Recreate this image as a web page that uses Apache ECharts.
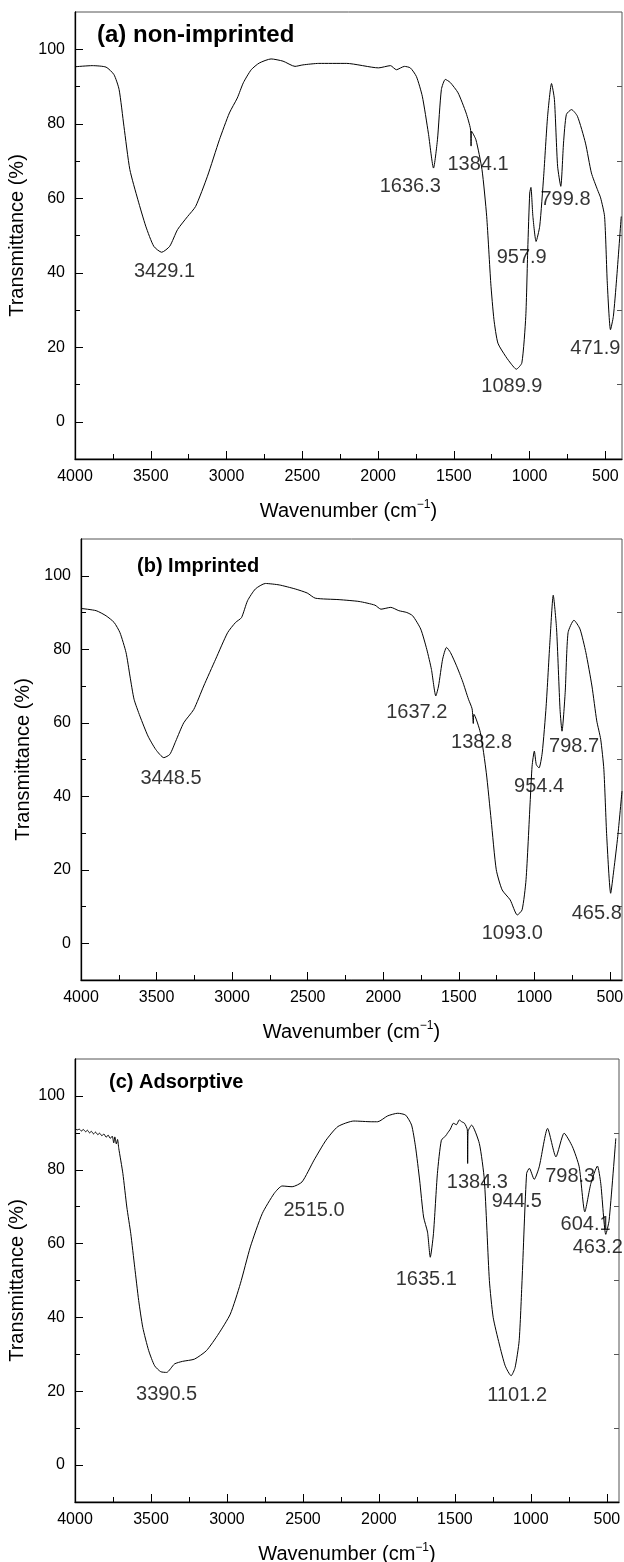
<!DOCTYPE html>
<html>
<head>
<meta charset="utf-8">
<script src="https://cdn.jsdelivr.net/npm/echarts@6/dist/echarts.min.js"></script>
<style>
  html, body { margin: 0; padding: 0; background: #fff; }
  #chart { width: 624px; height: 1562px; }
</style>
</head>
<body>
<div id="chart"></div>
<script>
// FTIR spectra, [wavenumber, transmittance %]
const specA = [
  [4000,95.3],[3887,95.6],[3795,95.2],[3743,93.2],[3709,89.2],[3677,79.3],[3638,67.7],[3585,59.6],
  [3533,52.5],[3480,47.1],[3428,45.5],[3375,47.1],[3323,51.6],[3257,55.1],[3204,57.8],[3126,65.9],
  [3047,75.7],[2981,82.9],[2929,86.9],[2889,91.0],[2837,94.5],[2784,96.3],[2706,97.4],[2627,96.8],
  [2548,95.4],[2496,95.8],[2391,96.2],[2207,96.2],[1997,95.0],[1918,95.6],[1879,94.5],[1826,95.4],
  [1787,95.0],[1747,92.7],[1708,87.4],[1668,77.5],[1634,68.1],[1608,75.7],[1582,89.2],[1556,91.9],
  [1524,91.1],[1472,88.3],[1419,82.9],[1390,78.6],[1386,74.0],[1383,78.0],[1354,75.7],[1314,67.7],
  [1283,55.1],[1256,37.2],[1235,27.4],[1209,21.1],[1157,17.5],[1117,15.3],[1088,14.1],[1051,15.8],
  [1025,28.3],[1012,46.2],[999,61.4],[991,62.9],[978,55.1],[957,48.4],[933,52.5],[907,65.9],
  [881,82.0],[855,90.8],[836,86.5],[815,68.6],[794,63.2],[776,74.8],[757,82.5],[723,83.8],
  [684,82.0],[631,74.8],[592,66.8],[552,62.3],[531,60.1],[505,55.1],[487,37.2],[466,24.7],
  [447,28.3],[426,38.1],[395,55.1]
];
const specB = [
  [4000,91.1],[3900,90.5],[3834,89.1],[3781,87.3],[3742,84.5],[3702,79.1],[3676,72.7],[3649,66.4],
  [3610,61.8],[3557,56.4],[3505,52.7],[3452,50.5],[3412,51.4],[3373,55.0],[3320,60.0],[3254,63.6],
  [3188,70.0],[3109,77.3],[3030,84.5],[2977,87.3],[2938,88.6],[2898,93.2],[2846,96.4],[2780,97.9],
  [2688,97.5],[2582,96.4],[2503,95.3],[2450,93.9],[2292,93.5],[2160,93.0],[2055,92.0],[2015,90.9],
  [1950,91.4],[1897,90.5],[1844,90.0],[1805,89.1],[1752,85.5],[1712,80.0],[1681,74.5],[1652,67.3],
  [1634,70.0],[1607,77.3],[1581,80.5],[1555,79.1],[1515,75.5],[1476,71.4],[1436,66.4],[1412,63.8],
  [1404,59.8],[1400,62.3],[1357,57.3],[1318,46.4],[1286,33.6],[1252,20.0],[1213,14.5],[1160,11.8],
  [1113,7.7],[1081,9.1],[1055,17.3],[1028,38.2],[1015,48.2],[1000,52.3],[987,48.6],[969,47.7],
  [948,51.8],[922,64.5],[896,82.7],[875,94.7],[853,85.5],[830,63.6],[817,57.7],[796,68.2],
  [777,84.5],[738,87.9],[698,85.5],[659,79.1],[619,70.0],[587,60.5],[561,55.5],[540,47.3],
  [521,29.1],[495,13.6],[474,20.0],[448,29.1],[420,41.4]
];
const specC = [
  [4000,91.2],[3985,90.8],[3972,91.0],[3958,90.5],[3945,90.9],[3930,90.3],[3918,90.7],[3905,90.0],
  [3892,90.4],[3878,89.7],[3865,90.2],[3850,89.5],[3838,89.9],[3823,89.2],[3810,89.7],[3795,88.8],
  [3782,89.4],[3768,88.5],[3755,89.1],[3745,87.3],[3738,88.9],[3728,87.0],[3720,88.2],[3712,85.8],
  [3685,79.0],[3659,69.9],[3633,62.7],[3607,53.6],[3581,44.6],[3554,37.3],[3515,31.0],[3476,26.9],
  [3436,25.3],[3397,25.1],[3345,27.4],[3292,28.1],[3214,28.7],[3135,31.0],[3056,35.5],[2978,40.9],
  [2912,49.1],[2846,59.1],[2768,68.1],[2689,73.6],[2637,75.6],[2571,75.4],[2506,76.7],[2427,82.6],
  [2348,88.0],[2270,91.7],[2165,93.2],[2047,93.0],[2008,93.0],[1942,94.6],[1876,95.3],[1824,94.8],
  [1785,92.1],[1759,86.2],[1732,77.2],[1706,67.2],[1680,63.1],[1662,56.3],[1641,62.7],[1615,79.0],
  [1589,88.0],[1560,89.2],[1549,89.9],[1530,91.0],[1510,92.6],[1490,92.2],[1471,93.5],[1455,93.0],
  [1437,92.6],[1418,90.8],[1416,81.7],[1413,90.4],[1390,92.1],[1339,87.1],[1306,77.2],[1273,50.0],
  [1248,40.0],[1208,32.8],[1169,26.9],[1130,24.2],[1104,26.4],[1077,33.7],[1058,50.0],[1028,79.0],
  [1010,80.4],[978,77.4],[945,80.8],[890,91.2],[835,83.5],[781,89.9],[726,86.2],[682,80.8],
  [645,68.6],[605,76.3],[562,81.0],[540,76.3],[507,62.5],[485,66.3],[441,88.5]
];

// peak labels and where their text sits (data coords)
const labelsA = ['3429.1', '1636.3', '1384.1', '957.9', '799.8', '1089.9', '471.9'];
const labelAtA = [[3409,40.4],[1787,63.2],[1340,69.0],[1052,44.0],[763,59.6],[1117,9.5],[566,19.8]];
const labelsB = ['3448.5', '1637.2', '1382.8', '954.4', '798.7', '1093.0', '465.8'];
const labelAtB = [[3404,44.7],[1778,62.9],[1349,54.5],[969,42.7],[737,53.6],[1146,2.7],[587,8.2]];
const labelsC = ['3390.5', '2515.0', '1635.1', '1384.3', '944.5', '798.3', '604.1', '463.2', '1101.2'];
const labelAtC = [[3397,19.0],[2427,69.0],[1688,50.2],[1352,76.6],[1093,71.3],[741,78.3],[640,65.1],[560,58.9],[1090,18.8]];

const titles = ['(a) non-imprinted', '(b) Imprinted', '(c) Adsorptive'];

const xMajor = [4000, 3500, 3000, 2500, 2000, 1500, 1000, 500];
const xMinor = [3750, 3250, 2750, 2250, 1750, 1250, 750];
const yMajor = [0, 20, 40, 60, 80, 100];
const yMinor = [10, 30, 50, 70, 90];

const FONT = 'Liberation Sans, Arial, Helvetica, sans-serif';

const panels = [
  { spec: specA, labels: labelsA, at: labelAtA, grid: { left: 75, top: 12, width: 547, height: 447 }, xMin: 390, titleSize: 24, titlePos: [97, 35] },
  { spec: specB, labels: labelsB, at: labelAtB, grid: { left: 81, top: 539, width: 541, height: 441 }, xMin: 420, titleSize: 20, titlePos: [137, 566] },
  { spec: specC, labels: labelsC, at: labelAtC, grid: { left: 75, top: 1059, width: 544, height: 443 }, xMin: 420, titleSize: 20, titlePos: [109, 1082] }
];

const chart = echarts.init(document.getElementById('chart'));

const grid = [], xAxis = [], yAxis = [], series = [], graphic = [];
const plain = (v) => String(v);

panels.forEach((p, i) => {
  grid.push(Object.assign({
    show: true, borderColor: '#555', borderWidth: 1, backgroundColor: 'transparent',
    containLabel: false, outerBoundsMode: 'none'
  }, p.grid));

  const xBase = { gridIndex: i, type: 'value', inverse: true, min: p.xMin, max: 4000, position: 'bottom', splitLine: { show: false } };
  xAxis.push(Object.assign({}, xBase, {
    axisLine: { show: true, onZero: false, lineStyle: { color: '#000', width: 1.3 } },
    axisTick: { inside: true, length: 8, customValues: xMajor, lineStyle: { color: '#000' } },
    axisLabel: { customValues: xMajor, formatter: plain, fontSize: 16, margin: 10, color: '#000', fontFamily: FONT },
    name: '{a|Wavenumber (cm}{s|−1}{a|)}',
    nameLocation: 'middle',
    nameGap: 40,
    nameTextStyle: {
      rich: {
        a: { fontSize: 20, color: '#000', fontFamily: FONT },
        s: { fontSize: 12, color: '#000', fontFamily: FONT, padding: [0, 0, 12, 0] }
      }
    }
  }));
  xAxis.push(Object.assign({}, xBase, {
    axisLine: { show: false, onZero: false },
    axisTick: { inside: true, length: 5, customValues: xMinor, lineStyle: { color: '#000' } },
    axisLabel: { show: false }
  }));

  const yBase = { gridIndex: i, type: 'value', min: -10, max: 110, splitLine: { show: false } };
  yAxis.push(Object.assign({}, yBase, {
    position: 'left',
    axisLine: { show: true, onZero: false, lineStyle: { color: '#000', width: 1.3 } },
    axisTick: { inside: true, length: 8, customValues: yMajor, lineStyle: { color: '#000' } },
    axisLabel: { customValues: yMajor, formatter: plain, fontSize: 16, margin: 10, color: '#000', fontFamily: FONT },
    name: 'Transmittance (%)',
    nameLocation: 'middle',
    nameGap: 31,
    nameTextStyle: { fontSize: 20, color: '#000', fontFamily: FONT }
  }));
  yAxis.push(Object.assign({}, yBase, {
    position: 'left',
    axisLine: { show: false, onZero: false },
    axisTick: { inside: true, length: 5, customValues: yMinor, lineStyle: { color: '#000' } },
    axisLabel: { show: false }
  }));
  yAxis.push(Object.assign({}, yBase, {
    position: 'right',
    axisLine: { show: false, onZero: false },
    axisTick: { inside: true, length: 5, customValues: yMinor, lineStyle: { color: '#555' } },
    axisLabel: { show: false }
  }));

  series.push({
    type: 'line',
    xAxisIndex: i * 2,
    yAxisIndex: i * 3,
    data: p.spec,
    showSymbol: false,
    smooth: 0.2,
    lineStyle: { color: '#000', width: 1 },
    silent: true
  });
  series.push({
    type: 'scatter',
    xAxisIndex: i * 2,
    yAxisIndex: i * 3,
    symbolSize: 1,
    itemStyle: { color: 'rgba(0,0,0,0)' },
    data: p.at.map((c, k) => ({ value: c, name: p.labels[k] })),
    label: {
      show: true,
      position: 'inside',
      formatter: (d) => d.name,
      fontSize: 20,
      color: '#000',
      fontFamily: FONT
    },
    silent: true
  });

  graphic.push({
    type: 'text',
    x: p.titlePos[0],
    y: p.titlePos[1],
    style: {
      text: titles[i],
      fontSize: p.titleSize,
      fontWeight: 'bold',
      fontFamily: FONT,
      fill: '#000',
      verticalAlign: 'middle',
      align: 'left'
    }
  });
});

chart.setOption({
  animation: false,
  backgroundColor: '#fff',
  grid, xAxis, yAxis, series, graphic
});
</script>
</body>
</html>
